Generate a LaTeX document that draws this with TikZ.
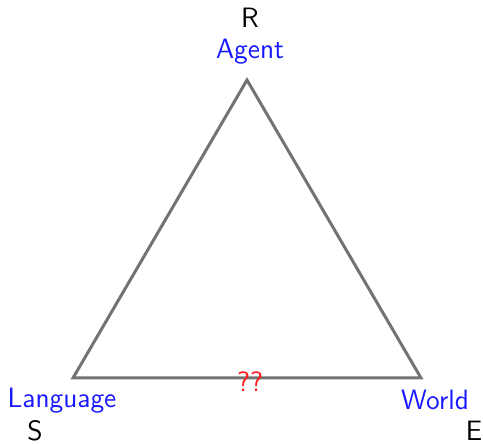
\documentclass[tikz,border=0pt]{standalone}
\usepackage{tikz}
\usetikzlibrary{positioning}

\begin{document}
\begin{tikzpicture}[
  x=0.5pt, y=0.5pt,
  lbl/.style={font=\fontsize{14}{16}\selectfont\sffamily, inner sep=1pt},
  Lblue/.style={lbl, text=blue!90!white},
  Lblack/.style={lbl, text=black},
  Lred/.style={lbl, text=red!90!white},
  side/.style={draw=black!55, line width=1.5pt, line join=miter},
]
\useasboundingbox (0,0) rectangle (483,445);

%% CORNERS
\coordinate (Ag) at (247,365);
\coordinate (La) at (73,67);
\coordinate (Wo) at (421,67);

%% TRIANGLE
\draw[side] (Ag) -- (Wo) -- (La) -- cycle;

%% LABELS
\node[Lblue]  (agent) at (250,393) {Agent};
\node[Lblack] (R)     at (250,427) {R};
\node[Lblue]  (lang)  at (62,44)   {Language};
\node[Lblack] (S)     at (35,14)   {S};
\node[Lblue]  (world) at (435,45)  {World};
\node[Lblack] (E)     at (474,14)  {E};
\node[Lred]   (qq)    at (250,63)  {??};

\end{tikzpicture}
\end{document}
